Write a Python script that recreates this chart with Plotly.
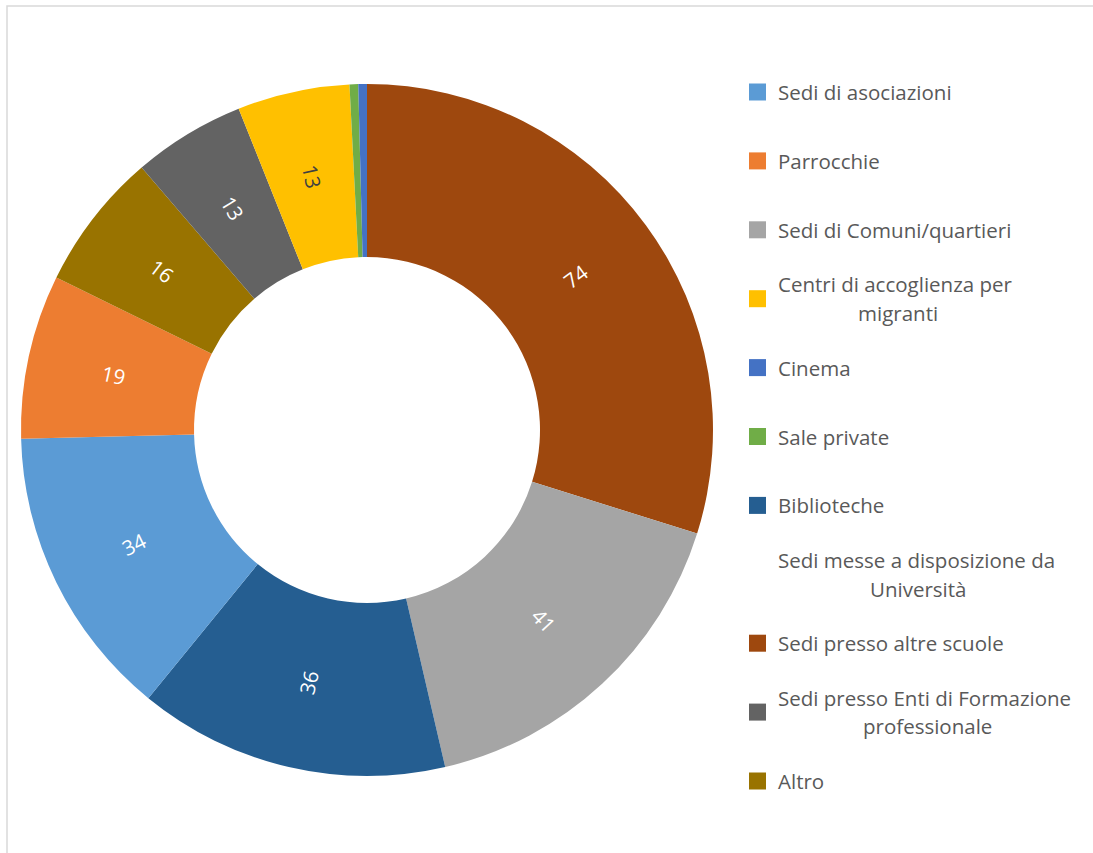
import math
import plotly.graph_objects as go

# Categories in legend order
categories = [
    "Sedi di asociazioni",
    "Parrocchie",
    "Sedi di Comuni/quartieri",
    "Centri di accoglienza per|migranti",
    "Cinema",
    "Sale private",
    "Biblioteche",
    "Sedi messe a disposizione da|Università",
    "Sedi presso altre scuole",
    "Sedi presso Enti di Formazione|professionale",
    "Altro",
]
values = [34, 19, 41, 13, 1, 1, 36, 0, 74, 13, 16]
colors = [
    "#5B9BD5", "#ED7D31", "#A5A5A5", "#FFC000", "#4472C4", "#70AD47",
    "#255E91", None, "#9E480E", "#636363", "#997300",
]
# Clockwise order of the slices, starting at 12 o'clock
slice_order = [8, 2, 6, 0, 1, 10, 9, 3, 5, 4]

W, H = 1093, 853
FONT = "Open Sans"
TEXT_GREY = "#595959"
FS = 20.5


def px(x):
    return x / W


def py(y):
    return 1 - y / H


cx, cy, r = 367, 430, 346
hole = 0.5

pie_labels = [categories[i].replace("|", " ") for i in slice_order]
pie_values = [values[i] for i in slice_order]
pie_colors = [colors[i] for i in slice_order]

fig = go.Figure(
    go.Pie(
        labels=pie_labels,
        values=pie_values,
        textinfo="none",
        marker=dict(colors=pie_colors, line=dict(width=0)),
        hole=hole,
        sort=False,
        direction="clockwise",
        rotation=0,
        showlegend=False,
        hoverinfo="label+value",
        domain=dict(x=[px(cx - r), px(cx + r)], y=[py(cy + r), py(cy - r)]),
    )
)

annotations = []
shapes = []

# Value labels along the radius, centred in the ring of each slice
total = sum(pie_values)
acc = 0
r_mid = r * (1 + hole) / 2
for v, col in zip(pie_values, pie_colors):
    theta = (acc + v / 2) / total * 360
    acc += v
    if v < 5:
        continue
    t = math.radians(theta)
    lx = cx + r_mid * math.sin(t)
    ly = cy - r_mid * math.cos(t)
    ang = theta - 90 if theta <= 180 else theta - 270
    annotations.append(dict(
        x=px(lx), y=py(ly), xref="paper", yref="paper",
        text=str(v), showarrow=False, textangle=ang,
        xanchor="center", yanchor="middle",
        font=dict(family=FONT, size=FS,
                  color="#404040" if col == "#FFC000" else "white"),
    ))

# Legend built from annotations and square markers
slot_top, slot_step = 92, 68.9
text_x = 776
line_gap = 28.5
for k, (name, col) in enumerate(zip(categories, colors)):
    yc = slot_top + k * slot_step
    if col is not None:
        shapes.append(dict(
            type="rect", xref="paper", yref="paper",
            x0=px(749), x1=px(766), y0=py(yc + 8.5), y1=py(yc - 8.5),
            fillcolor=col, line=dict(width=0),
        ))
    lines = name.split("|")
    y_first = yc if len(lines) == 1 else yc - line_gap / 2
    annotations.append(dict(
        x=px(text_x), y=py(y_first), xref="paper", yref="paper",
        text=lines[0], showarrow=False, xanchor="left", yanchor="middle",
        font=dict(family=FONT, size=FS, color=TEXT_GREY),
    ))

# Second lines of the wrapped legend entries, centred under the first line
second_line_centres = {3: 898, 7: 918, 9: 927}
for k, xc in second_line_centres.items():
    yc = slot_top + k * slot_step
    annotations.append(dict(
        x=px(xc), y=py(yc + line_gap / 2), xref="paper", yref="paper",
        text=categories[k].split("|")[1], showarrow=False,
        xanchor="center", yanchor="middle",
        font=dict(family=FONT, size=FS, color=TEXT_GREY),
    ))

# Chart-area frame
shapes.append(dict(
    type="rect", xref="paper", yref="paper",
    x0=px(7), x1=px(W + 10), y0=py(H + 10), y1=py(6),
    line=dict(color="#d9d9d9", width=1.5), fillcolor="rgba(0,0,0,0)",
))

fig.update_layout(
    width=W, height=H,
    margin=dict(l=0, r=0, t=0, b=0),
    paper_bgcolor="white", plot_bgcolor="white",
    annotations=annotations, shapes=shapes,
    font=dict(family=FONT),
)

fig.write_html("out.html")
